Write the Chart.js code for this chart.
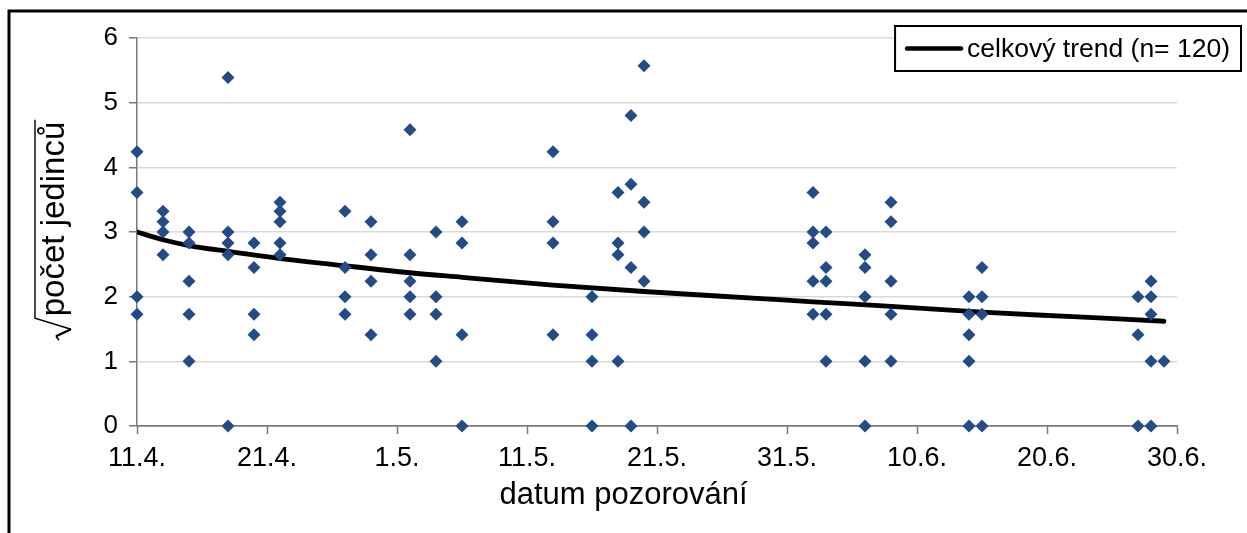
<!DOCTYPE html>
<html lang="cs">
<head>
<meta charset="utf-8">
<title>Počet jedinců v průběhu sezóny</title>
<script src="https://cdn.jsdelivr.net/npm/chart.js@4.4.1/dist/chart.umd.min.js"></script>
<style>
  html, body { margin: 0; padding: 0; background: #fff; }
  canvas { display: block; }
</style>
</head>
<body>
<canvas id="chart" width="1247" height="533"></canvas>
<script>
// observation dates (day.month.) and square-rooted counts for each date
const obsDates = ['11.4.', '13.4.', '15.4.', '18.4.', '20.4.', '22.4.', '27.4.', '29.4.',
  '2.5.', '4.5.', '6.5.', '13.5.', '16.5.', '18.5.', '19.5.', '20.5.',
  '2.6.', '3.6.', '6.6.', '8.6.', '14.6.', '15.6.', '27.6.', '28.6.', '29.6.'];
const sqrtCounts = [
  [4.24, 3.61, 2, 1.73],
  [3.32, 3.16, 3, 2.65],
  [3, 2.83, 2.24, 1.73, 1],
  [5.39, 3, 2.83, 2.65, 0],
  [2.83, 2.45, 1.73, 1.41],
  [3.46, 3.32, 3.16, 2.83, 2.65],
  [3.32, 2.45, 2, 1.73],
  [3.16, 2.65, 2.24, 1.41],
  [4.58, 2.65, 2.24, 2, 1.73],
  [3, 2, 1.73, 1],
  [3.16, 2.83, 1.41, 0],
  [4.24, 3.16, 2.83, 1.41],
  [2, 1.41, 1, 0],
  [3.61, 2.83, 2.65, 1],
  [4.8, 3.74, 2.45, 0],
  [5.57, 3.46, 3, 2.24],
  [3.61, 3, 2.83, 2.24, 1.73],
  [3, 2.45, 2.24, 1.73, 1],
  [2.65, 2.45, 2, 1, 0],
  [3.46, 3.16, 2.24, 1.73, 1],
  [2, 1.73, 1.41, 1, 0],
  [2.45, 2, 1.73, 0],
  [2, 1.41, 0],
  [2.24, 2, 1.73, 1, 0],
  [1]
];

// overall trend curve
const trendDates = ['11.4.', '13.4.', '15.4.', '18.4.', '22.4.', '26.4.', '2.5.', '6.5.',
  '13.5.', '20.5.', '29.5.', '2.6.', '8.6.', '15.6.', '22.6.', '29.6.'];
const trendValues = [3.0, 2.88, 2.79, 2.70, 2.59, 2.50, 2.37, 2.30,
  2.18, 2.08, 1.97, 1.92, 1.85, 1.76, 1.69, 1.62];

const xTickLabels = ['11.4.', '21.4.', '1.5.', '11.5.', '21.5.', '31.5.', '10.6.', '20.6.', '30.6.'];
const xTitle = 'datum pozorování';
const yTitle = 'počet jedinců';
const trendLabel = 'celkový trend (n= 120)';

const FONT = '"Liberation Sans", Arial, sans-serif';
const AXIS = '#7a7a7a';
const GRID = '#d9d9d9';

// days since 11.4.
function dayOf(s) {
  const [d, m] = s.split('.').map(Number);
  return (Date.UTC(2001, m - 1, d) - Date.UTC(2001, 3, 11)) / 864e5;
}

const points = [];
obsDates.forEach((s, i) => sqrtCounts[i].forEach(v => points.push({ x: dayOf(s), y: v })));
const trend = trendDates.map((s, i) => ({ x: dayOf(s), y: trendValues[i] }));

// black frame round the figure (only top and left edges are visible)
const frame = {
  id: 'frame',
  beforeDraw(chart) {
    const { ctx, width, height } = chart;
    ctx.save();
    ctx.fillStyle = '#fff';
    ctx.fillRect(0, 0, width, height);
    ctx.strokeStyle = '#000';
    ctx.lineWidth = 3;
    ctx.beginPath();
    ctx.moveTo(9, height);
    ctx.lineTo(9, 11);
    ctx.lineTo(width, 11);
    ctx.stroke();
    ctx.restore();
  }
};

// axis titles: x title is centred on the whole figure,
// y title is rotated and sits under a square-root sign
const axisTitles = {
  id: 'axisTitles',
  afterDraw(chart) {
    const { ctx, chartArea, width } = chart;
    ctx.save();
    ctx.fillStyle = '#000';
    ctx.font = '31px ' + FONT;
    ctx.textAlign = 'center';
    ctx.textBaseline = 'middle';
    ctx.fillText(xTitle, width / 2, chartArea.bottom + 69);

    const cy = (chartArea.top + chartArea.bottom) / 2;
    ctx.translate(55, cy);
    ctx.rotate(-Math.PI / 2);
    ctx.font = '33px ' + FONT;
    ctx.textAlign = 'left';
    const rw = 22;
    const wb = ctx.measureText(yTitle).width;
    const x0 = -(rw + wb) / 2;
    ctx.fillText(yTitle, x0 + rw + 2, 0);
    ctx.strokeStyle = '#000';
    ctx.lineJoin = 'miter';
    ctx.lineWidth = 1.6;
    ctx.beginPath();
    ctx.moveTo(x0, 4);
    ctx.lineTo(x0 + 4, 1);
    ctx.stroke();
    ctx.lineWidth = 2.4;
    ctx.beginPath();
    ctx.moveTo(x0 + 4, 1);
    ctx.lineTo(x0 + 11, 16);
    ctx.stroke();
    ctx.lineWidth = 1.4;
    ctx.beginPath();
    ctx.moveTo(x0 + 11, 16);
    ctx.lineTo(x0 + rw, -20);
    ctx.lineTo(x0 + rw + wb + 4, -20);
    ctx.stroke();
    ctx.restore();
  }
};

// framed legend for the trend line
const trendLegend = {
  id: 'trendLegend',
  afterDraw(chart) {
    const { ctx, chartArea } = chart;
    ctx.save();
    ctx.font = '26.5px ' + FONT;
    const tw = ctx.measureText(trendLabel).width;
    const h = 45;
    const top = chartArea.top - 12;
    const right = chartArea.right + 64;
    const w = 12 + 54 + 6 + tw + 11;
    const left = right - w;
    ctx.fillStyle = '#fff';
    ctx.fillRect(left, top, w, h);
    ctx.strokeStyle = '#000';
    ctx.lineWidth = 2;
    ctx.strokeRect(left, top, w, h);
    ctx.lineWidth = 4.5;
    ctx.lineCap = 'round';
    ctx.beginPath();
    ctx.moveTo(left + 12, top + h / 2);
    ctx.lineTo(left + 66, top + h / 2);
    ctx.stroke();
    ctx.fillStyle = '#000';
    ctx.textBaseline = 'middle';
    ctx.fillText(trendLabel, left + 72, top + h / 2 + 1);
    ctx.restore();
  }
};

new Chart(document.getElementById('chart'), {
  type: 'scatter',
  data: {
    datasets: [
      {
        label: 'pozorování',
        data: points,
        pointStyle: 'rectRot',
        pointRadius: 6.5,
        pointHoverRadius: 6.5,
        pointBackgroundColor: '#234c86',
        pointBorderColor: '#234c86',
        pointBorderWidth: 0,
        showLine: false,
        clip: false,
        order: 0
      },
      {
        label: trendLabel,
        data: trend,
        showLine: true,
        borderColor: '#000',
        borderWidth: 4.8,
        pointRadius: 0,
        cubicInterpolationMode: 'monotone',
        borderCapStyle: 'round',
        order: 1
      }
    ]
  },
  options: {
    responsive: false,
    animation: false,
    devicePixelRatio: 1,
    layout: { padding: { left: 20, top: 38, right: 70, bottom: 0 } },
    plugins: {
      legend: { display: false },
      tooltip: { enabled: false }
    },
    scales: {
      x: {
        type: 'linear',
        min: 0,
        max: 80,
        afterFit(scale) { scale.height = 107; },
        afterBuildTicks(scale) {
          scale.ticks = xTickLabels.map((_, i) => ({ value: i * 10 }));
        },
        ticks: {
          callback: v => xTickLabels[v / 10],
          font: { family: FONT, size: 27 },
          color: '#000',
          padding: 8,
          maxRotation: 0,
          autoSkip: false
        },
        grid: {
          drawOnChartArea: false,
          drawTicks: true,
          tickLength: 8,
          tickColor: AXIS,
          tickWidth: 1.5
        },
        border: { color: AXIS, width: 1.5 }
      },
      y: {
        min: 0,
        max: 6,
        afterFit(scale) { scale.width = 117; },
        ticks: {
          stepSize: 1,
          font: { family: FONT, size: 26 },
          color: '#000',
          padding: 11
        },
        grid: {
          color: ctx => ctx.tick && ctx.tick.value === 0 ? AXIS : GRID,
          lineWidth: 1.5,
          drawTicks: true,
          tickLength: 8,
          tickColor: AXIS,
          tickWidth: 1.5
        },
        border: { color: AXIS, width: 1.5 }
      }
    }
  },
  plugins: [frame, axisTitles, trendLegend]
});
</script>
</body>
</html>
